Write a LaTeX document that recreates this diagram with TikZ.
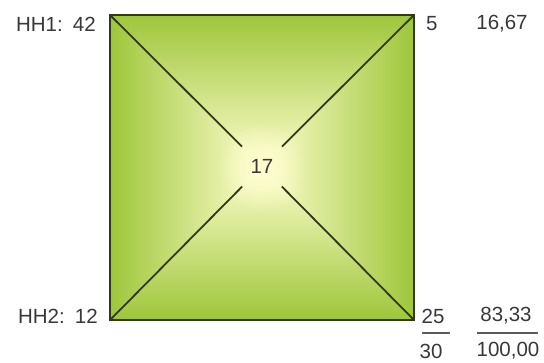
\documentclass[tikz,border=0pt]{standalone}
\usepackage{fontspec}
\setmainfont{Liberation Sans}
\usetikzlibrary{fadings}
\definecolor{edgegreen}{RGB}{158,198,58}
\definecolor{midgreen}{RGB}{192,218,96}
\definecolor{paleyel}{RGB}{254,254,206}
\definecolor{frame}{RGB}{48,58,26}
\definecolor{txt}{RGB}{56,56,56}
\definecolor{rule}{RGB}{90,90,90}
\tikzfading[name=glowfade, inner color=transparent!0, outer color=transparent!100]
\tikzset{
  lbl/.style={text=txt, inner sep=0pt, font=\fontsize{20.5}{24}\selectfont},
  diagline/.style={draw=frame, line width=1.8pt},
  sumrule/.style={draw=rule, line width=2pt},
}
\begin{document}
\begin{tikzpicture}[x=1pt,y=-1pt]
\useasboundingbox (0,0) rectangle (544,362);
\coordinate (tl) at (110,15);
\coordinate (tr) at (414,15);
\coordinate (br) at (414,320);
\coordinate (bl) at (110,320);
\coordinate (ctr) at (262,167.5);
% pyramid shading
\shade[top color=edgegreen, middle color=midgreen, bottom color=paleyel] (tl) -- (tr) -- (ctr) -- cycle;
\shade[bottom color=edgegreen, middle color=midgreen, top color=paleyel] (bl) -- (br) -- (ctr) -- cycle;
\shade[left color=edgegreen, middle color=midgreen, right color=paleyel] (tl) -- (bl) -- (ctr) -- cycle;
\shade[right color=edgegreen, middle color=midgreen, left color=paleyel] (tr) -- (br) -- (ctr) -- cycle;
\fill[paleyel, path fading=glowfade] (ctr) circle (45);
\draw[frame, line width=2pt] (tl) rectangle (br);
\node[lbl, circle, minimum size=56pt] (c) at (262,166.5) {17};
\draw[diagline] (tl) -- (c);
\draw[diagline] (tr) -- (c);
\draw[diagline] (bl) -- (c);
\draw[diagline] (br) -- (c);
% labels
\node[lbl, anchor=east] (hh1) at (96,24) {HH1:\hspace{0.5em}42};
\node[lbl, anchor=west] (v5) at (426,24) {5};
\node[lbl] (p1) at (502,24) {16,67};
\node[lbl, anchor=east] (hh2) at (98,316) {HH2:\hspace{0.5em}12};
\node[lbl] (v25) at (433,316) {25};
\node[lbl] (p2) at (506,316) {83,33};
\node[lbl] (v30) at (431,351) {30};
\node[lbl] (p3) at (508,351) {100,00};
\coordinate (r1a) at (422,333);
\coordinate (r1b) at (450,333);
\coordinate (r2a) at (477,333);
\coordinate (r2b) at (538,333);
\draw[sumrule] (r1a) -- (r1b);
\draw[sumrule] (r2a) -- (r2b);
\end{tikzpicture}
\end{document}
